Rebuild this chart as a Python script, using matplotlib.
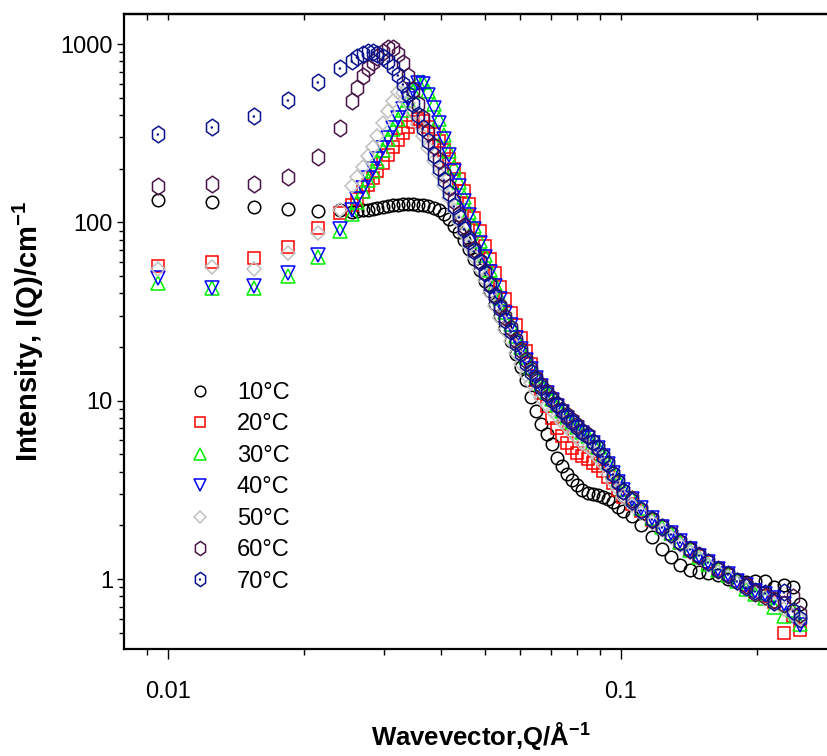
import matplotlib
matplotlib.use("Agg")
import matplotlib.pyplot as plt
from matplotlib.path import Path
from matplotlib.ticker import FixedLocator, NullFormatter, FixedFormatter
from matplotlib.lines import Line2D

# ---------------- data ----------------
q_values = [0.0095, 0.0125, 0.0155, 0.0184, 0.0214, 0.0240,
            0.0255, 0.0262, 0.0269, 0.0276, 0.0283, 0.0290, 0.0298, 0.0306, 0.0314, 0.0322,
            0.0330, 0.0339, 0.0348, 0.0357, 0.0366, 0.0376, 0.0386, 0.0396, 0.0406, 0.0417,
            0.0428, 0.0439, 0.0451, 0.0463, 0.0475, 0.0488, 0.0501, 0.0514, 0.0528, 0.0542,
            0.0556, 0.0571, 0.0586, 0.0601, 0.0617, 0.0633, 0.0650, 0.0667, 0.0685, 0.0703,
            0.0722, 0.0741, 0.0760, 0.0780, 0.0801, 0.0822, 0.0844, 0.0866, 0.0889, 0.0913,
            0.0937, 0.0962, 0.0987, 0.1013,
            0.106, 0.111, 0.117, 0.123, 0.129, 0.135, 0.142, 0.149, 0.156, 0.164,
            0.172, 0.180, 0.189, 0.198, 0.208, 0.218, 0.229, 0.240, 0.249]

i_10C = [134, 130, 122, 119, 116, 117,
         115, 116, 117, 118, 119, 120, 122, 124, 125, 126,
         127, 127, 127, 126, 126, 124, 120, 118, 112, 104,
         96, 88, 80, 71, 62, 54, 47, 41, 35, 30,
         25.5, 21.5, 18.3, 15.5, 13, 10.5, 8.7, 7.4, 6.5, 5.7,
         4.8, 4.3, 3.9, 3.6, 3.35, 3.15, 3.05, 3.0, 2.95, 2.9,
         2.8, 2.7, 2.55, 2.4,
         2.25, 2.0, 1.72, 1.48, 1.33, 1.2, 1.12, 1.1, 1.08, 1.05,
         1.0, 0.97, 0.96, 0.98, 0.97, 0.9, 0.92, 0.9, 0.72]

i_20C = [57, 60, 63, 73, 93, 113,
         125, 135, 148, 162, 178, 195, 215, 240, 265, 290,
         318, 345, 365, 378, 370, 345, 315, 285, 255, 228,
         200, 175, 150, 127, 106, 89, 74, 62, 52, 43.5,
         37, 31, 26.5, 22.5, 19.0, 16.0, 13, 11, 9.3, 8.0,
         7.0, 6.3, 5.8, 5.4, 5.1, 4.9, 4.7, 4.5, 4.3, 4.05,
         3.75, 3.45, 3.15, 2.9,
         2.65, 2.4, 2.15, 1.95, 1.78, 1.6, 1.47, 1.35, 1.25, 1.14,
         1.05, 0.97, 0.92, 0.86, 0.8, 0.74, 0.5, 0.62, 0.52]

i_30C = [46, 43, 43, 50, 64, 90,
         112, 130, 150, 172, 195, 222, 255, 292, 333, 378,
         428, 488, 548, 610, 615, 545, 460, 380, 310, 252,
         205, 168, 138, 114, 95, 79, 65.5, 54, 45, 37.5,
         31.5, 27, 23, 20, 17.5, 15.5, 13.8, 12.4, 11.2, 10.2,
         9.4, 8.7, 8.1, 7.6, 7.1, 6.7, 6.3, 5.9, 5.5, 5.0,
         4.5, 4.0, 3.6, 3.2,
         2.85, 2.5, 2.2, 1.97, 1.8, 1.62, 1.45, 1.33, 1.22, 1.13,
         1.05, 0.97, 0.88, 0.82, 0.78, 0.70, 0.62, 0.67, 0.56]

i_40C = [49, 43, 44, 52, 66, 92,
         118, 135, 155, 178, 200, 228, 260, 298, 340, 385,
         435, 495, 555, 605, 600, 520, 440, 360, 295, 240,
         195, 160, 132, 110, 92, 77, 64, 53, 44, 37,
         31, 26.5, 22.5, 19.5, 17, 15, 13.4, 12.1, 11.0, 10.1,
         9.3, 8.6, 8.0, 7.5, 7.0, 6.6, 6.2, 5.8, 5.4, 4.9,
         4.4, 3.95, 3.5, 3.15,
         2.8, 2.5, 2.2, 1.97, 1.8, 1.63, 1.47, 1.35, 1.25, 1.14,
         1.06, 0.98, 0.92, 0.86, 0.82, 0.78, 0.72, 0.62, 0.55]

i_50C = [55, 56, 55, 67, 87, 117,
         160, 180, 205, 235, 265, 305, 360, 420, 480, 540,
         530, 470, 410, 355, 305, 260, 220, 188, 160, 137,
         117, 100, 86, 74, 64, 55, 47.5, 40, 34, 29,
         25, 21.5, 18.5, 16, 14, 12.5, 11.3, 10.3, 9.5, 8.8,
         8.2, 7.6, 7.1, 6.6, 6.2, 5.8, 5.5, 5.2, 4.8, 4.4,
         3.9, 3.5, 3.2, 2.9,
         2.6, 2.35, 2.08, 1.88, 1.72, 1.56, 1.42, 1.31, 1.2, 1.1,
         1.02, 0.95, 0.88, 0.83, 0.77, 0.72, 0.68, 0.63, 0.6]

i_60C = [161, 164, 164, 180, 233, 338,
         480, 570, 660, 730, 790, 850, 900, 945, 955, 880,
         780, 665, 555, 460, 385, 320, 268, 225, 188, 158,
         132, 112, 96, 82, 71, 61, 53, 45, 39, 34,
         29.5, 25.5, 22, 19.2, 17, 15, 13.4, 12.2, 11.2, 10.3,
         9.6, 8.9, 8.3, 7.8, 7.3, 6.8, 6.4, 5.9, 5.4, 4.9,
         4.4, 3.9, 3.5, 3.1,
         2.8, 2.45, 2.15, 1.95, 1.78, 1.62, 1.46, 1.35, 1.24, 1.13,
         1.05, 0.97, 0.92, 0.84, 0.80, 0.76, 0.72, 0.79, 0.64]

i_70C = [313, 343, 395, 486, 613, 734,
         800, 850, 885, 905, 905, 885, 850, 800, 740, 670,
         600, 525, 460, 400, 340, 285, 240, 202, 172, 146,
         124, 107, 92, 79, 69, 60, 52, 44.5, 38.5, 33,
         28.5, 24.5, 21.2, 18.6, 16.3, 14.5, 13.0, 11.9, 10.9, 10.1,
         9.4, 8.7, 8.1, 7.6, 7.1, 6.7, 6.3, 5.9, 5.4, 4.9,
         4.4, 3.9, 3.5, 3.1,
         2.75, 2.45, 2.18, 1.95, 1.78, 1.62, 1.47, 1.36, 1.25, 1.14,
         1.06, 0.98, 0.90, 0.86, 0.83, 0.74, 0.85, 0.66, 0.60]

series_labels = ["10°C", "20°C", "30°C", "40°C", "50°C", "60°C", "70°C"]
series_values = [i_10C, i_20C, i_30C, i_40C, i_50C, i_60C, i_70C]

x_major_ticks = [0.01, 0.1]
x_major_labels = ["0.01", "0.1"]
y_major_ticks = [1, 10, 100, 1000]
y_major_labels = ["1", "10", "100", "1000"]

# ---------------- style ----------------
FONT = ["Liberation Sans", "DejaVu Sans"]
plt.rcParams["font.family"] = FONT
plt.rcParams["mathtext.fontset"] = "custom"
plt.rcParams["mathtext.rm"] = "Liberation Sans"
plt.rcParams["mathtext.bf"] = "Liberation Sans:bold"

hx = 0.72
hex_path = Path([(0, 1), (-hx, 0.5), (-hx, -0.5), (0, -1), (hx, -0.5), (hx, 0.5), (0, 1)],
                [Path.MOVETO] + [Path.LINETO] * 5 + [Path.CLOSEPOLY])
d = 0.05
dot_hex_path = Path([(0, 1), (-hx, 0.5), (-hx, -0.5), (0, -1), (hx, -0.5), (hx, 0.5), (0, 1),
                     (-d - 0.08, -d), (d - 0.08, -d), (d - 0.08, d), (-d - 0.08, d), (-d - 0.08, -d)],
                    [Path.MOVETO] + [Path.LINETO] * 5 + [Path.CLOSEPOLY]
                    + [Path.MOVETO] + [Path.LINETO] * 3 + [Path.CLOSEPOLY])

styles = [
    dict(marker="o", color="#000000", ms=9.0),
    dict(marker="s", color="#FF0000", ms=8.4),
    dict(marker="^", color="#00EE00", ms=9.4),
    dict(marker="v", color="#0000FF", ms=9.4),
    dict(marker="D", color="#C0C0C0", ms=7.4),
    dict(marker=hex_path, color="#4A1448", ms=12.0),
    dict(marker=dot_hex_path, color="#0B148C", ms=12.0),
]

fig = plt.figure(figsize=(8.27, 7.56), dpi=100)
W, H = 827.0, 756.0
ax = fig.add_axes([124 / W, 1 - 649 / H, 1 - 124 / W, (649 - 14) / H])

handles = []
for lab, vals, st in zip(series_labels, series_values, styles):
    ax.plot(q_values, vals, linestyle="none", marker=st["marker"], ms=st["ms"],
            mfc="none", mec=st["color"], mew=1.1)
    handles.append(Line2D([], [], linestyle="none", marker=st["marker"], ms=st["ms"] * 0.85,
                          mfc="none", mec=st["color"], mew=1.1))

ax.set_xscale("log")
ax.set_yscale("log")
ax.set_xlim(0.0080, 0.285)
ax.set_ylim(0.405, 1475)

xminor = [0.009, 0.02, 0.03, 0.04, 0.05, 0.06, 0.07, 0.08, 0.09, 0.2]
ax.xaxis.set_major_locator(FixedLocator(x_major_ticks))
ax.xaxis.set_major_formatter(FixedFormatter(x_major_labels))
ax.xaxis.set_minor_locator(FixedLocator(xminor))
ax.xaxis.set_minor_formatter(NullFormatter())
ax.yaxis.set_major_locator(FixedLocator(y_major_ticks))
ax.yaxis.set_major_formatter(FixedFormatter(y_major_labels))
yminor = [v * m for m in (0.1, 1, 10, 100) for v in range(2, 10) if 0.4 < v * m < 1475]
ax.yaxis.set_minor_locator(FixedLocator(yminor))
ax.yaxis.set_minor_formatter(NullFormatter())

ax.tick_params(axis="x", which="major", direction="out", length=7, width=1.0,
               labelsize=17, pad=16, top=False, bottom=True)
ax.tick_params(axis="x", which="minor", direction="out", length=4, width=1.0,
               top=False, bottom=True)
ax.tick_params(axis="y", which="major", direction="out", length=5, width=1.0,
               labelsize=17, pad=3, right=False, left=True)
ax.tick_params(axis="y", which="minor", direction="out", length=3.5, width=1.0,
               right=False, left=True)

sec = ax.secondary_xaxis("top")
sec.xaxis.set_major_locator(FixedLocator([0.01, 0.1]))
sec.xaxis.set_major_formatter(NullFormatter())
sec.xaxis.set_minor_locator(FixedLocator(xminor))
sec.xaxis.set_minor_formatter(NullFormatter())
sec.tick_params(axis="x", which="both", direction="in", length=4, width=1.0)
sec.spines["top"].set_linewidth(1.6)

for s in ("left", "bottom", "top"):
    ax.spines[s].set_linewidth(1.6)
ax.spines["right"].set_visible(False)

ax.set_xlabel("Wavevector,Q/Å$^{\\mathbf{-1}}$", fontsize=18.5, fontweight="bold")
ax.xaxis.set_label_coords((481 - 124) / (W - 124), -(720 - 649) / 635)
ax.set_ylabel("Intensity, I(Q)/cm$^{\\mathbf{-1}}$", fontsize=21, fontweight="bold")
ax.yaxis.set_label_coords((46 - 124) / (W - 124), 0.5)

ax.legend(handles, series_labels, loc="upper left",
          bbox_to_anchor=((186 - 124) / (W - 124), (649 - 382) / 635),
          frameon=False, fontsize=17, handlelength=1.2, handletextpad=0.95,
          labelspacing=0.40, borderpad=0, borderaxespad=0)

fig.savefig("out.png", dpi=100)
